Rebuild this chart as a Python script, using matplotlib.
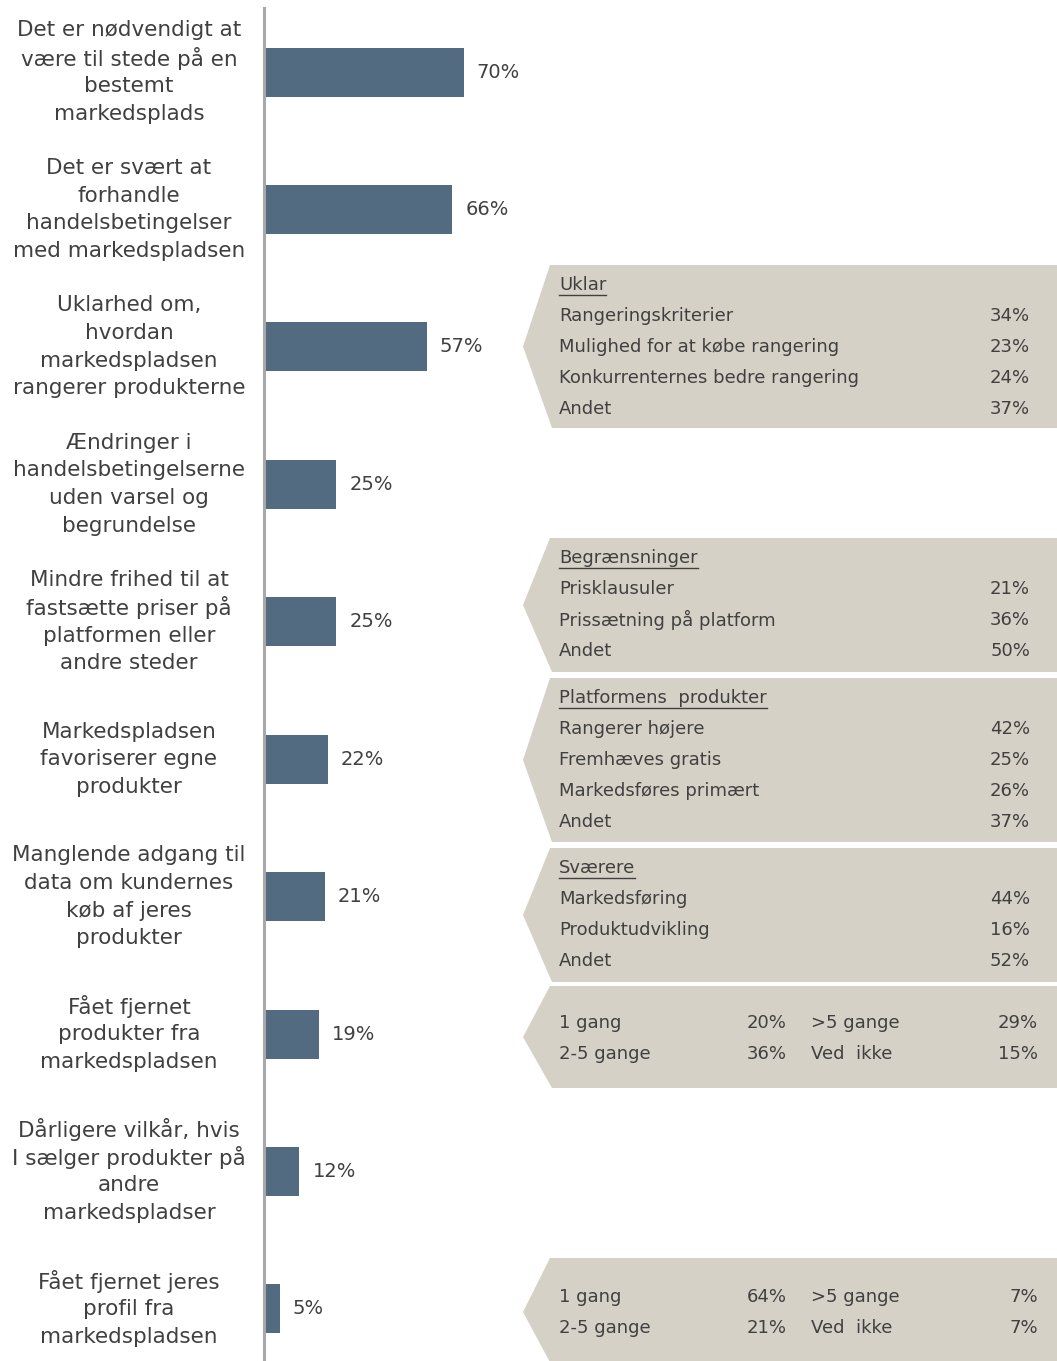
import matplotlib.pyplot as plt
from matplotlib.patches import Polygon
from matplotlib import transforms

plt.rcParams['font.family'] = ['DejaVu Sans']

# main bar data
categories = [
    'Det er nødvendigt at\nvære til stede på en\nbestemt\nmarkedsplads',
    'Det er svært at\nforhandle\nhandelsbetingelser\nmed markedspladsen',
    'Uklarhed om,\nhvordan\nmarkedspladsen\nrangerer produkterne',
    'Ændringer i\nhandelsbetingelserne\nuden varsel og\nbegrundelse',
    'Mindre frihed til at\nfastsætte priser på\nplatformen eller\nandre steder',
    'Markedspladsen\nfavoriserer egne\nprodukter',
    'Manglende adgang til\ndata om kundernes\nkøb af jeres\nprodukter',
    'Fået fjernet\nprodukter fra\nmarkedspladsen',
    'Dårligere vilkår, hvis\nI sælger produkter på\nandre\nmarkedspladser',
    'Fået fjernet jeres\nprofil fra\nmarkedspladsen',
]
values = [70, 66, 57, 25, 25, 22, 21, 19, 12, 5]

# callout data
uklar_title = 'Uklar'
uklar_items = ['Rangeringskriterier', 'Mulighed for at købe rangering',
               'Konkurrenternes bedre rangering', 'Andet']
uklar_values = [34, 23, 24, 37]

begr_title = 'Begrænsninger'
begr_items = ['Prisklausuler', 'Prissætning på platform', 'Andet']
begr_values = [21, 36, 50]

platf_title = 'Platformens  produkter'
platf_items = ['Rangerer højere', 'Fremhæves gratis', 'Markedsføres primært', 'Andet']
platf_values = [42, 25, 26, 37]

svaer_title = 'Sværere'
svaer_items = ['Markedsføring', 'Produktudvikling', 'Andet']
svaer_values = [44, 16, 52]

gange_items = ['1 gang', '2-5 gange', '>5 gange', 'Ved  ikke']
produkter_fjernet_values = [20, 36, 29, 15]
profil_fjernet_values = [64, 21, 7, 7]

W, H = 1057, 1361
bar_color = '#526b80'
text_color = '#404040'
box_color = '#d6d1c6'

fig = plt.figure(figsize=(W / 100, H / 100), dpi=100)

x0 = 265.5
px_per_pct = 2.83
ax = fig.add_axes([x0 / W, 0, (W - x0) / W, 1])
ax.set_xlim(0, (W - x0) / px_per_pct)
step = 137.4
ax.set_ylim(9 + (H - 1309) / step, -72 / step)
ax.axis('off')

y = list(range(len(values)))
ax.barh(y, values, height=49 / step, color=bar_color)
ax.axvline(-2 / px_per_pct, ymin=0, ymax=1 - 8 / H, color='#a8a8a8', lw=2.2, clip_on=False)

for i, v in zip(y, values):
    ax.text(v + 13 / px_per_pct, i, f'{v}%', va='center', ha='left',
            fontsize=14, color=text_color)

# category labels, one text per line for an even line pitch
lab_tr = transforms.blended_transform_factory(fig.transFigure, ax.transData)
line_pitch = 27.7 / step
for i, c in zip(y, categories):
    lines = c.split('\n')
    for k, ln in enumerate(lines):
        ax.text(129 / W, i + (k - (len(lines) - 1) / 2) * line_pitch, ln,
                transform=lab_tr, ha='center', va='center',
                fontsize=15.5, color=text_color)

# overlay in pixel coordinates for the callouts
ov = fig.add_axes([0, 0, 1, 1], facecolor='none')
ov.set_xlim(0, W)
ov.set_ylim(H, 0)
ov.axis('off')

renderer = fig.canvas.get_renderer()
box_fs = 13
row_gap = 31


def callout(top, bot):
    mid = (top + bot) / 2
    ov.add_patch(Polygon([(550, top), (W + 5, top), (W + 5, bot), (552, bot), (523, mid)],
                         closed=True, facecolor=box_color, edgecolor='none'))


def list_box(top, bot, title, items, vals, val_x=1030):
    callout(top, bot)
    ty = top + 20
    t = ov.text(559, ty, title, ha='left', va='center', fontsize=box_fs, color=text_color)
    bb = t.get_window_extent(renderer)
    inv = ov.transData.inverted()
    (xa, ya), (xb, yb) = inv.transform([(bb.x0, bb.y0), (bb.x1, bb.y0)])
    ov.plot([xa, xb], [ya + 1, yb + 1], color=text_color, lw=1)
    for k, (it, v) in enumerate(zip(items, vals)):
        ry = ty + row_gap * (k + 1)
        ov.text(559, ry, it, ha='left', va='center', fontsize=box_fs, color=text_color)
        ov.text(val_x, ry, f'{v}%', ha='right', va='center', fontsize=box_fs, color=text_color)


def grid_box(top, bot, items, vals, row1):
    callout(top, bot)
    for k, (it, v) in enumerate(zip(items, vals)):
        col, row = divmod(k, 2)
        ry = row1 + row_gap * row
        lx, vx = (559, 787) if col == 0 else (811, 1038)
        ov.text(lx, ry, it, ha='left', va='center', fontsize=box_fs, color=text_color)
        ov.text(vx, ry, f'{v}%', ha='right', va='center', fontsize=box_fs, color=text_color)


list_box(265, 428, uklar_title, uklar_items, uklar_values)
list_box(538, 672, begr_title, begr_items, begr_values)
list_box(678, 842, platf_title, platf_items, platf_values)
list_box(848, 982, svaer_title, svaer_items, svaer_values)
grid_box(986, 1088, gange_items, produkter_fjernet_values, 1023)
grid_box(1258, 1366, gange_items, profil_fjernet_values, 1297)

fig.savefig('out.png', dpi=100)
